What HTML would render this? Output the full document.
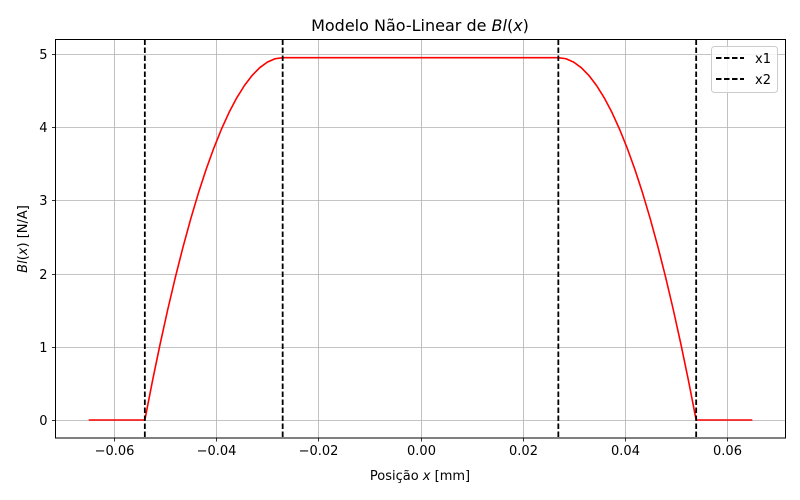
<!DOCTYPE html>
<html><head><meta charset="utf-8">
<style>
html,body{margin:0;padding:0;background:#fff;}
svg{display:block;font-family:"DejaVu Sans","Liberation Sans",sans-serif;}
</style></head>
<body>
<svg id="chart" width="800" height="500" viewBox="0 0 800 500">
<rect width="800" height="500" fill="#fff"/>
<g id="grid"></g>
<g id="plot"></g>
<rect x="55.5" y="39.5" width="730" height="398.5" fill="none" stroke="#000" stroke-width="1"/>
<g id="ticks"></g>
<text x="420" y="31" text-anchor="middle" font-size="16">Modelo Não-Linear de <tspan font-style="italic">Bl</tspan>(<tspan font-style="italic">x</tspan>)</text>
<text x="420" y="480" text-anchor="middle" font-size="13">Posição <tspan font-style="italic">x</tspan> [mm]</text>
<text transform="translate(27,239) rotate(-90)" text-anchor="middle" font-size="13"><tspan font-style="italic">Bl</tspan>(<tspan font-style="italic">x</tspan>) [N/A]</text>
<g>
<rect x="711.5" y="46.5" width="66" height="46" rx="3" fill="#fff" fill-opacity="0.8" stroke="#ccc"/>
<line x1="716" y1="58" x2="744" y2="58" stroke="#000" stroke-width="2" stroke-dasharray="5.5,2.5"/>
<text x="755" y="63" font-size="13">x1</text>
<line x1="716" y1="79" x2="744" y2="79" stroke="#000" stroke-width="2" stroke-dasharray="5.5,2.5"/>
<text x="755" y="84" font-size="13">x2</text>
</g>
</svg>
<script>
const xTicks=[-0.06,-0.04,-0.02,0.00,0.02,0.04,0.06];
const xTickLabels=["−0.06","−0.04","−0.02","0.00","0.02","0.04","0.06"];
const yTicks=[0,1,2,3,4,5];
const yTickLabels=["0","1","2","3","4","5"];
const curveX=[-0.065,-0.054,-0.0525,-0.051,-0.0495,-0.048,-0.0465,-0.045,-0.0435,-0.042,-0.0405,-0.039,-0.0375,-0.036,-0.0345,-0.033,-0.0315,-0.030,-0.0285,-0.027,
 0.027,0.0285,0.030,0.0315,0.033,0.0345,0.036,0.0375,0.039,0.0405,0.042,0.0435,0.045,0.0465,0.048,0.0495,0.051,0.0525,0.054,0.065];
const curveY=[0,0,0.535,1.039,1.513,1.956,2.368,2.75,3.102,3.422,3.712,3.972,4.202,4.40,4.568,4.706,4.813,4.889,4.935,4.95,
 4.95,4.935,4.889,4.813,4.706,4.568,4.40,4.202,3.972,3.712,3.422,3.102,2.75,2.368,1.956,1.513,1.039,0.535,0,0];
const vlinesX1=[-0.027,0.027];
const vlinesX2=[-0.054,0.054];
const NS="http://www.w3.org/2000/svg";
const xMin=-0.0715,xMax=0.0715;
const L=55.5,R=785.5,T=39.5,B=438;
function sx(v){return L+(v-xMin)/(xMax-xMin)*(R-L);}
function sy(v){return 420-(v)*(420-54)/5;}
function mk(tag,attrs,parent){const e=document.createElementNS(NS,tag);for(const k in attrs)e.setAttribute(k,attrs[k]);parent.appendChild(e);return e;}
const grid=document.getElementById('grid'),plot=document.getElementById('plot'),ticks=document.getElementById('ticks');
xTicks.forEach((v,i)=>{
 const x=Math.round(sx(v))+0.5;
 const g=mk('line',{x1:x,y1:T,x2:x,y2:B,stroke:'#b0b0b0','stroke-width':0.8},grid);
 
 
 const t=mk('line',{x1:x,y1:B,x2:x,y2:B+3.5,stroke:'#000','stroke-width':0.8},ticks);
 
 
 const l=mk('text',{x:x,y:B+17,'text-anchor':'middle','font-size':13},ticks);
 l.textContent=xTickLabels[i];
 
 
});
yTicks.forEach((v,i)=>{
 const y=Math.round(sy(v))+0.5;
 const g=mk('line',{x1:L,y1:y,x2:R,y2:y,stroke:'#b0b0b0','stroke-width':0.8},grid);
 
 
 const t=mk('line',{x1:L-3.5,y1:y,x2:L,y2:y,stroke:'#000','stroke-width':0.8},ticks);
 
 
 const l=mk('text',{x:L-8,y:y+4.5,'text-anchor':'end','font-size':13},ticks);
 l.textContent=yTickLabels[i];
 
 
});
const pts=curveX.map((x,i)=>sx(x).toFixed(2)+','+sy(curveY[i]).toFixed(2)).join(' ');
const pl=mk('polyline',{points:pts,fill:'none',stroke:'#ff0000','stroke-width':1.6,'stroke-linejoin':'round'},plot);


vlinesX1.concat(vlinesX2).forEach((v,i)=>{
 const x=sx(v);
 const ln=mk('line',{x1:x,y1:T,x2:x,y2:B,stroke:'#000','stroke-width':1.8,'stroke-dasharray':'5.5,2.5'},plot);
 
 
});
</script>
</body></html>
